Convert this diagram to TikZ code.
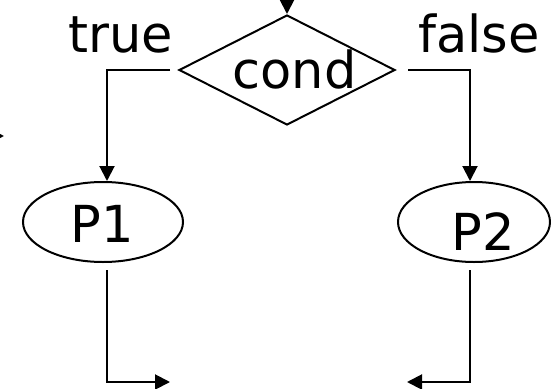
\documentclass[tikz,border=0pt]{standalone}
\usepackage{fontspec}
\setmainfont{DejaVu Sans}
\usetikzlibrary{arrows.meta,shapes.geometric}
\begin{document}
\begin{tikzpicture}[x=1pt,y=-1pt,
  line width=2pt,
  arr/.style={-{Triangle[length=15pt,width=15pt]}},
  lbl/.style={anchor=base,inner sep=0pt,font=\fontsize{51}{60}\selectfont},
  procbox/.style={draw,ellipse,inner sep=0pt,minimum width=160pt,minimum height=80pt},
  condbox/.style={draw,diamond,inner sep=0pt,minimum width=216pt,minimum height=110pt}]
\useasboundingbox (0,0) rectangle (551,388);
\node[condbox] (d) at (287,70) {};
\node[lbl] (tcond) at (294.5,88) {cond};
\node[procbox] (p1) at (103,222) {};
\node[lbl] (t1) at (102.5,242) {P1};
\node[procbox, minimum width=152pt] (p2) at (474,222) {};
\node[lbl] (t2) at (483,250) {P2};
\node[lbl] (ttrue) at (120.5,52) {true};
\node[lbl] (tfalse) at (479,52) {false};
\coordinate (in) at (287,-20);
\coordinate (stubA) at (-40,136);
\coordinate (stubB) at (4,136);
\coordinate (o1) at (170,382);
\coordinate (o2) at (407,382);
\draw[arr] (in) -- (d.north);
\draw[arr] (stubA) -- (stubB);
\draw[arr] ([xshift=-8pt]d.west) -| ([xshift=4pt]p1.north);
\draw[arr] ([xshift=12pt]d.east) -| ([xshift=-4pt]p2.north);
\draw[arr] ([xshift=4pt,yshift=-7pt]p1.south) |- (o1);
\draw[arr] ([xshift=-4pt,yshift=-7pt]p2.south) |- (o2);
\end{tikzpicture}
\end{document}
